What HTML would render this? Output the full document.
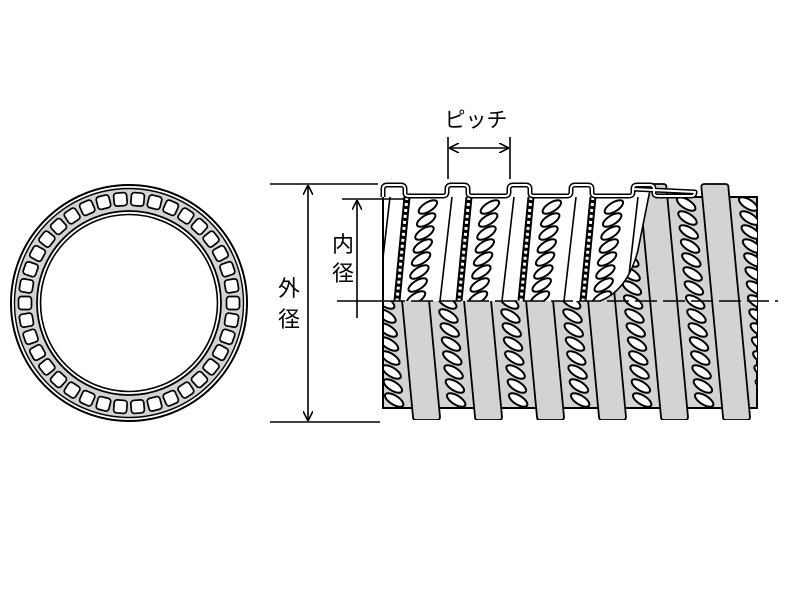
<!DOCTYPE html>
<html><head><meta charset="utf-8"><style>
html,body{margin:0;padding:0;background:#fff;width:800px;height:600px;overflow:hidden}
svg{display:block}
text{font-family:"Liberation Sans","Noto Sans CJK JP",sans-serif;fill:#000}
</style></head><body>
<svg id="s" width="800" height="600" viewBox="0 0 800 600" xmlns="http://www.w3.org/2000/svg">
<defs>
<clipPath id="cBody"><rect x="383" y="197" width="374" height="223"/><rect x="645" y="183" width="112" height="15"/></clipPath>
<clipPath id="cRect"><rect x="383" y="197" width="374" height="211"/></clipPath>
<clipPath id="cCut"><path d="M383,186 L650,186 L638,250 Q628,290 600,301 L383,301 Z"/></clipPath>
<marker id="ar" viewBox="0 0 10 10" refX="10" refY="5" markerWidth="10" markerHeight="10" markerUnits="userSpaceOnUse" orient="auto-start-reverse"><path d="M0,0 L10,5 L0,10" fill="none" stroke="#000" stroke-width="1.6"/></marker>
</defs>
<g id="ring"></g>
<rect x="383" y="197" width="374" height="211" fill="#d3d3d3" stroke="#000" stroke-width="2"/>
<g id="ovals" clip-path="url(#cRect)"></g>
<g id="bands" clip-path="url(#cBody)"></g>
<g clip-path="url(#cCut)">
<rect x="383" y="186" width="270" height="115" fill="#fff"/>
<g id="cut"></g>
</g>
<path d="M650,190 L638,250 Q628,290 600,301" fill="none" stroke="#000" stroke-width="1.6"/>
<path id="prof" fill="none" stroke="#000" stroke-width="5" stroke-linejoin="round"/>
<path id="prof2" fill="none" stroke="#fff" stroke-width="2" stroke-linejoin="round"/>
<line x1="383" y1="197" x2="383" y2="408" stroke="#000" stroke-width="2"/>
<line x1="337" y1="301" x2="383" y2="301" stroke="#000" stroke-width="1.6"/>
<line x1="383" y1="301" x2="778" y2="301" stroke="#000" stroke-width="1.6" stroke-dasharray="22,6"/>
<line x1="270" y1="184" x2="378" y2="184" stroke="#000" stroke-width="1.6"/>
<line x1="270" y1="422" x2="380" y2="422" stroke="#000" stroke-width="1.6"/>
<line x1="308" y1="185" x2="308" y2="421" stroke="#000" stroke-width="1.6" marker-start="url(#ar)" marker-end="url(#ar)"/>
<line x1="342" y1="199" x2="405" y2="199" stroke="#000" stroke-width="1.6"/>
<line x1="357" y1="200" x2="357" y2="318" stroke="#000" stroke-width="1.6" marker-start="url(#ar)"/>
<line x1="448" y1="137" x2="448" y2="179" stroke="#000" stroke-width="1.6"/>
<line x1="510" y1="137" x2="510" y2="179" stroke="#000" stroke-width="1.6"/>
<line x1="449" y1="148" x2="509" y2="148" stroke="#000" stroke-width="1.6" marker-start="url(#ar)" marker-end="url(#ar)"/>
<text x="476" y="127" font-size="21" text-anchor="middle">ピッチ</text>
<text x="343" y="252" font-size="22" text-anchor="middle">内</text>
<text x="343" y="281" font-size="22" text-anchor="middle">径</text>
<text x="289" y="296" font-size="22" text-anchor="middle">外</text>
<text x="289" y="327" font-size="22" text-anchor="middle">径</text>
</svg>
<script>
var NS="http://www.w3.org/2000/svg";
function el(p,t,a){var e=document.createElementNS(NS,t);for(var k in a)e.setAttribute(k,a[k]);p.appendChild(e);return e;}
var ring=document.getElementById('ring');
var cx=129,cy=303;
el(ring,'circle',{cx:cx,cy:cy,r:103.5,fill:'none',stroke:'#d3d3d3','stroke-width':'23'});
el(ring,'circle',{cx:cx,cy:cy,r:118,fill:'none',stroke:'#000','stroke-width':'2'});
el(ring,'circle',{cx:cx,cy:cy,r:114.5,fill:'none',stroke:'#000','stroke-width':'1.4'});
el(ring,'circle',{cx:cx,cy:cy,r:92,fill:'none',stroke:'#000','stroke-width':'1.8'});
el(ring,'circle',{cx:cx,cy:cy,r:88.5,fill:'none',stroke:'#000','stroke-width':'1.6'});
var N=38;
for(var i=0;i<N;i++){var a=i*2*Math.PI/N;var x=cx+104*Math.cos(a),y=cy+104*Math.sin(a);
el(ring,'rect',{x:x-6.5,y:y-6.5,width:13,height:13,rx:3,fill:'#fff',stroke:'#000','stroke-width':'1.7',transform:'rotate('+(a*180/Math.PI)+' '+x+' '+y+')'});}
var ov=document.getElementById('ovals'),bd=document.getElementById('bands'),cut=document.getElementById('cut');
function bx(b,y){return b-11*(420-y)/120;}
for(var b=289;b<=785;b+=62){
  for(var y=204;y<=406;y+=14){var x=bx(b,y)+45;
    el(ov,'ellipse',{cx:x,cy:y,rx:10.5,ry:4.5,fill:'#fff',stroke:'#000','stroke-width':'2',transform:'rotate(32 '+x+' '+y+')'});}
  var t=bx(b,184),u=b;
  el(bd,'path',{d:'M'+(t+3)+',184 L'+(t+24)+',184 Q'+(t+27)+',184 '+(t+27)+',187 L'+(u+27)+',417 Q'+(u+27)+',420 '+(u+24)+',420 L'+(u+3)+',420 Q'+u+',420 '+u+',417 L'+t+',187 Q'+t+',184 '+(t+3)+',184 Z',fill:'#d3d3d3',stroke:'#000','stroke-width':'1.8'});
}
for(var k=-1;k<5;k++){var o=62*k;
  el(cut,'line',{x1:407+o,y1:197,x2:397+o,y2:301,stroke:'#000','stroke-width':'7'});
  el(cut,'line',{x1:407+o,y1:197,x2:397+o,y2:301,stroke:'#fff','stroke-width':'3','stroke-dasharray':'3,3'});
  el(cut,'line',{x1:452+o,y1:197,x2:440+o,y2:301,stroke:'#000','stroke-width':'1.6'});
  for(var y=207;y<=298;y+=13){var x=428+o-12*(y-206)/92;
    el(cut,'ellipse',{cx:x,cy:y,rx:10.5,ry:4.5,fill:'#fff',stroke:'#000','stroke-width':'2',transform:'rotate(-32 '+x+' '+y+')'});}
}
var d='M383,197 L383,189 Q383,185 387,185 L401,185 Q405,185 405,189 L405,193 Q405,196 409,196 L443,196 Q447,196 447,192';
for(var k=0;k<4;k++){var s=447+62*k;
  d+=' L'+s+',189 Q'+s+',185 '+(s+4)+',185 L'+(s+17)+',185 Q'+(s+21)+',185 '+(s+21)+',189 L'+(s+21)+',193 Q'+(s+21)+',196 '+(s+25)+',196 L'+(s+58)+',196 Q'+(s+62)+',196 '+(s+62)+',192';}
d+=' L633,189 Q633,185 637,185 L648,185';
document.getElementById('prof').setAttribute('d',d);
document.getElementById('prof2').setAttribute('d',d);
</script>
</body></html>
